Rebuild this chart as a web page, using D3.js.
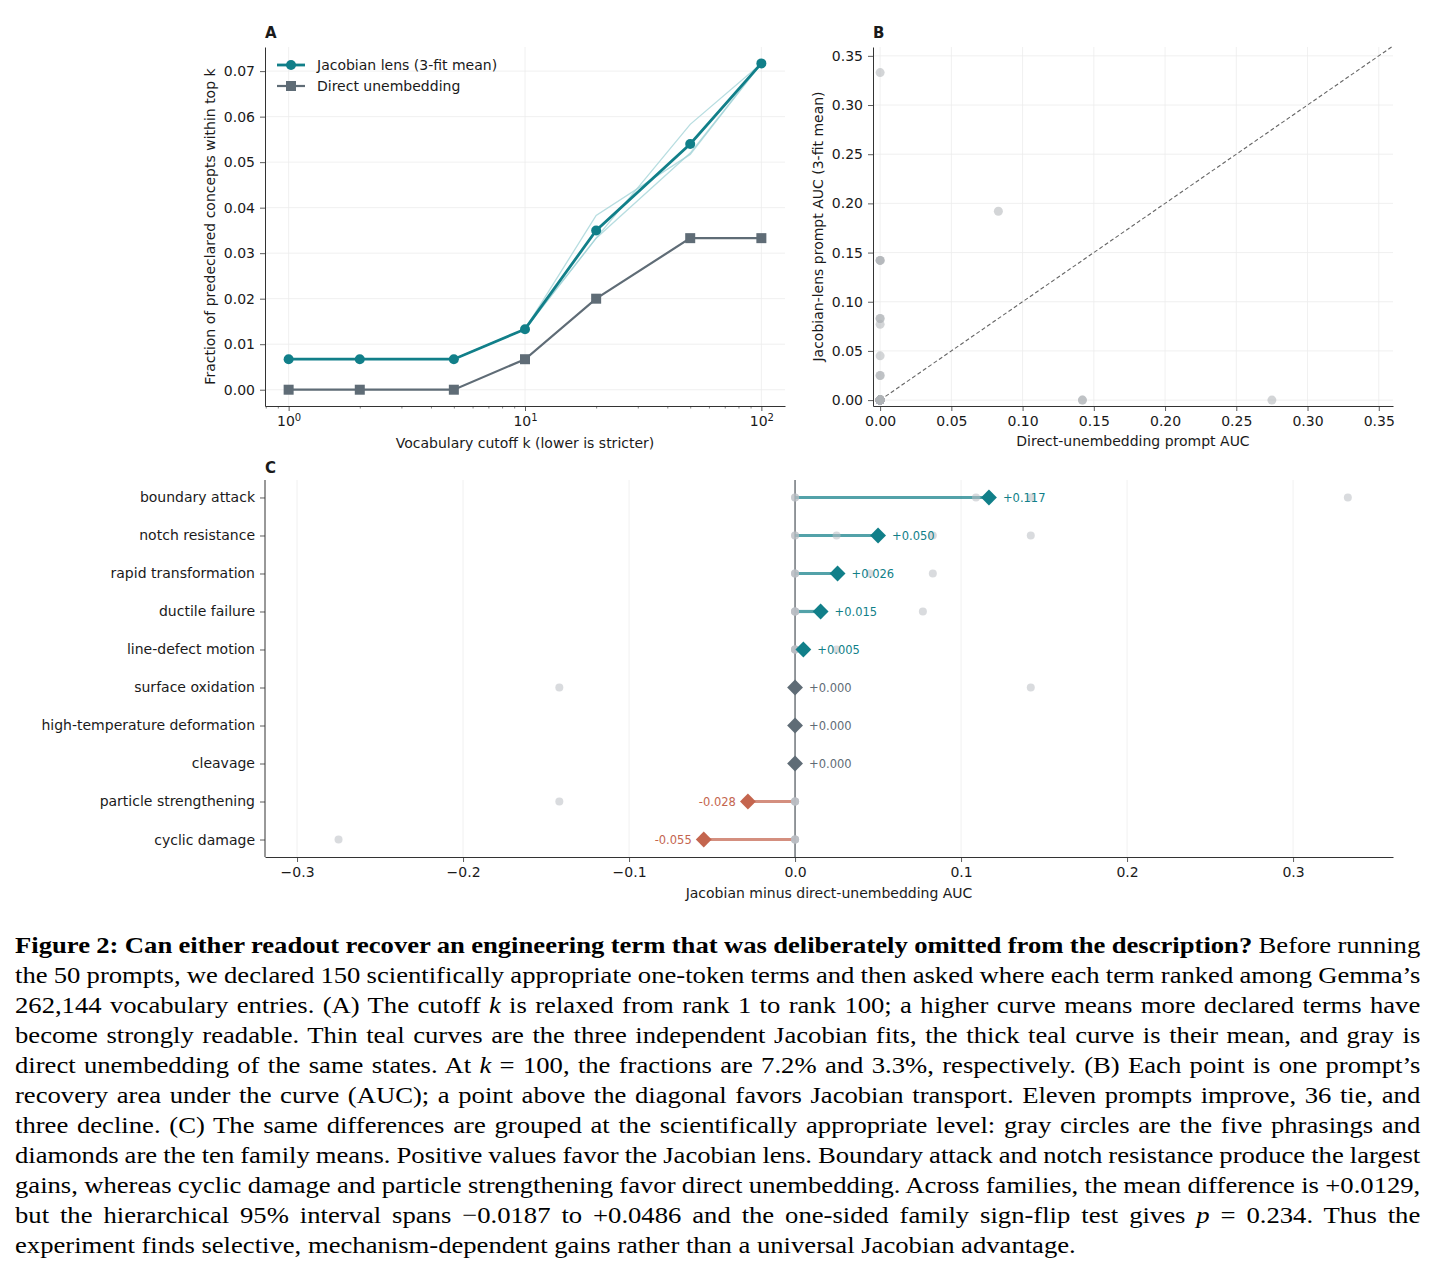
<!DOCTYPE html>
<html>
<head>
<meta charset="utf-8">
<script src="https://cdn.jsdelivr.net/npm/d3@7"></script>
<style>
body { margin: 0; background: #fff; }
svg text { font-family: "DejaVu Sans", sans-serif; fill: #1a1a1a; }
#caption { position: absolute; left: 15px; top: 930px; width: 1266px;
  transform: scale(1.11, 1); transform-origin: 0 0;
  font-family: "Liberation Serif", "Times New Roman", serif; font-size: 24px;
  line-height: 30px; color: #000; }
#caption div { white-space: nowrap; }
#caption div span { display: inline-block; }
</style>
</head>
<body>
<svg width="1438" height="915"></svg>
<div id="caption">
<div><span><b>Figure 2: Can either readout recover an engineering term that was deliberately omitted from the description?</b> Before running</span></div>
<div><span>the 50 prompts, we declared 150 scientifically appropriate one-token terms and then asked where each term ranked among Gemma’s</span></div>
<div><span>262,144 vocabulary entries. (A) The cutoff <i>k</i> is relaxed from rank 1 to rank 100; a higher curve means more declared terms have</span></div>
<div><span>become strongly readable. Thin teal curves are the three independent Jacobian fits, the thick teal curve is their mean, and gray is</span></div>
<div><span>direct unembedding of the same states. At <i>k</i> = 100, the fractions are 7.2% and 3.3%, respectively. (B) Each point is one prompt’s</span></div>
<div><span>recovery area under the curve (AUC); a point above the diagonal favors Jacobian transport. Eleven prompts improve, 36 tie, and</span></div>
<div><span>three decline. (C) The same differences are grouped at the scientifically appropriate level: gray circles are the five phrasings and</span></div>
<div><span>diamonds are the ten family means. Positive values favor the Jacobian lens. Boundary attack and notch resistance produce the largest</span></div>
<div><span>gains, whereas cyclic damage and particle strengthening favor direct unembedding. Across families, the mean difference is +0.0129,</span></div>
<div><span>but the hierarchical 95% interval spans −0.0187 to +0.0486 and the one-sided family sign-flip test gives <i>p</i> = 0.234. Thus the</span></div>
<div class="last"><span>experiment finds selective, mechanism-dependent gains rather than a universal Jacobian advantage.</span></div>
</div>
<script>
// panel A data
var kValues = [1, 2, 5, 10, 20, 50, 100];
var jacobianMean = [0.0067, 0.0067, 0.0067, 0.0133, 0.035, 0.054, 0.0717];
var jacobianFit1 = [0.0067, 0.0067, 0.0067, 0.0133, 0.0383, 0.0517, 0.0717];
var jacobianFit2 = [0.0067, 0.0067, 0.0067, 0.0133, 0.0333, 0.0583, 0.0717];
var jacobianFit3 = [0.0067, 0.0067, 0.0067, 0.0133, 0.0333, 0.052, 0.0717];
var directUnembed = [0, 0, 0, 0.0067, 0.02, 0.0333, 0.0333];
var aTicksY = [0, 0.01, 0.02, 0.03, 0.04, 0.05, 0.06, 0.07];
var aTicksX = [1, 10, 100];
var aMinorX = [0.8, 0.9, 2, 3, 4, 5, 6, 7, 8, 9, 20, 30, 40, 50, 60, 70, 80, 90];

// panels B and C data: five phrasings per family
var families = ["boundary attack", "notch resistance", "rapid transformation", "ductile failure",
  "line-defect motion", "surface oxidation", "high-temperature deformation", "cleavage",
  "particle strengthening", "cyclic damage"];
var phrasingDirect = [
  [0, 0, 0.083, 0, 0],
  [0, 0, 0, 0, 0],
  [0, 0, 0, 0, 0],
  [0, 0, 0, 0, 0],
  [0, 0, 0, 0, 0],
  [0.142, 0, 0, 0, 0],
  [0, 0, 0, 0, 0],
  [0, 0, 0, 0, 0],
  [0.142, 0, 0, 0, 0],
  [0.275, 0, 0, 0, 0]
];
var phrasingJacobian = [
  [0, 0, 0.192, 0.142, 0.333],
  [0, 0, 0.025, 0.083, 0.142],
  [0, 0, 0, 0.045, 0.083],
  [0, 0, 0, 0, 0.077],
  [0, 0, 0, 0, 0.025],
  [0, 0, 0, 0, 0.142],
  [0, 0, 0, 0, 0],
  [0, 0, 0, 0, 0],
  [0, 0, 0, 0, 0],
  [0, 0, 0, 0, 0]
];
var bTicks = [0, 0.05, 0.1, 0.15, 0.2, 0.25, 0.3, 0.35];
var cTicks = [-0.3, -0.2, -0.1, 0, 0.1, 0.2, 0.3];

var teal = "#117f89", tealLight = "#9fd2d6", slate = "#5f6c76", brick = "#c4654e";
var gridColor = "#ececec", spineColor = "#333";

// justify caption lines by word spacing
d3.selectAll("#caption div").each(function() {
  var div = this, span = div.querySelector("span");
  if (div.classList.contains("last")) return;
  var w = span.getBoundingClientRect().width / 1.11;
  var spaces = (span.textContent.match(/ /g) || []).length;
  span.style.wordSpacing = ((1266 - w) / spaces) + "px";
});

var svg = d3.select("svg");

function styleAxis(g) {
  g.select(".domain").attr("stroke", spineColor).attr("stroke-width", 1);
  g.selectAll(".tick line").attr("stroke", spineColor).attr("stroke-width", 0.8);
  g.selectAll(".tick text").attr("font-size", "14px").attr("fill", "#1a1a1a")
    .attr("font-family", "DejaVu Sans, sans-serif");
}

function panelLetter(x, y, s) {
  svg.append("text").attr("x", x).attr("y", y).attr("font-size", "15px")
    .attr("font-weight", "bold").text(s);
}

// ---------- panel A ----------
var A = {left: 265, right: 785, top: 47, bottom: 406};
var xA = d3.scaleLog().domain([Math.pow(10, -0.1), Math.pow(10, 2.1)]).range([A.left, A.right]);
var yA = d3.scaleLinear().domain([-0.00358, 0.0753]).range([A.bottom, A.top]);
var gA = svg.append("g");

gA.selectAll(".gy").data(aTicksY).enter().append("line")
  .attr("x1", A.left).attr("x2", A.right)
  .attr("y1", function(d) { return yA(d); }).attr("y2", function(d) { return yA(d); })
  .attr("stroke", gridColor).attr("stroke-width", 0.8);
gA.selectAll(".gx").data(aTicksX).enter().append("line")
  .attr("x1", function(d) { return xA(d); }).attr("x2", function(d) { return xA(d); })
  .attr("y1", A.top).attr("y2", A.bottom)
  .attr("stroke", gridColor).attr("stroke-width", 0.8);

var lineA = function(vals) {
  return d3.line().x(function(d, i) { return xA(kValues[i]); }).y(function(d) { return yA(d); })(vals);
};
[jacobianFit1, jacobianFit2, jacobianFit3].forEach(function(f) {
  gA.append("path").attr("d", lineA(f)).attr("fill", "none")
    .attr("stroke", tealLight).attr("stroke-width", 1.3).attr("opacity", 0.75);
});
gA.append("path").attr("d", lineA(directUnembed)).attr("fill", "none")
  .attr("stroke", slate).attr("stroke-width", 2.2);
gA.selectAll(".sq").data(directUnembed).enter().append("rect")
  .attr("x", function(d, i) { return xA(kValues[i]) - 5; })
  .attr("y", function(d) { return yA(d) - 5; })
  .attr("width", 10).attr("height", 10).attr("fill", slate);
gA.append("path").attr("d", lineA(jacobianMean)).attr("fill", "none")
  .attr("stroke", teal).attr("stroke-width", 2.8);
gA.selectAll(".dot").data(jacobianMean).enter().append("circle")
  .attr("cx", function(d, i) { return xA(kValues[i]); })
  .attr("cy", function(d) { return yA(d); })
  .attr("r", 5).attr("fill", teal);

var axAY = gA.append("g").attr("transform", "translate(" + A.left + ",0)")
  .call(d3.axisLeft(yA).tickValues(aTicksY).tickFormat(d3.format(".2f")).tickSize(5).tickPadding(5).tickSizeOuter(0));
styleAxis(axAY);
var axAX = gA.append("g").attr("transform", "translate(0," + A.bottom + ")")
  .call(d3.axisBottom(xA).tickValues(aTicksX).tickSize(5).tickPadding(5).tickSizeOuter(0));
styleAxis(axAX);
axAX.selectAll(".tick text").each(function(d) {
  var t = d3.select(this);
  t.text("10");
  t.append("tspan").attr("dy", "-0.45em").attr("font-size", "10px").text(Math.round(Math.log10(d)));
});
var axAMinor = gA.append("g").attr("transform", "translate(0," + A.bottom + ")")
  .call(d3.axisBottom(xA).tickValues(aMinorX).tickSize(2.5).tickFormat(""));
axAMinor.select(".domain").remove();
axAMinor.selectAll(".tick line").attr("stroke", spineColor).attr("stroke-width", 0.6);

gA.append("text").attr("x", (A.left + A.right) / 2).attr("y", 448).attr("text-anchor", "middle")
  .attr("font-size", "14px").text("Vocabulary cutoff k (lower is stricter)");
gA.append("text").attr("transform", "translate(215," + (A.top + A.bottom) / 2 + ") rotate(-90)")
  .attr("text-anchor", "middle").attr("font-size", "14px")
  .text("Fraction of predeclared concepts within top k");

var legend = gA.append("g").attr("transform", "translate(277,65)");
[["Jacobian lens (3-fit mean)", teal, "circle"], ["Direct unembedding", slate, "square"]].forEach(function(e, i) {
  var lg = legend.append("g").attr("transform", "translate(0," + i * 21 + ")");
  lg.append("line").attr("x1", 0).attr("x2", 28).attr("stroke", e[1]).attr("stroke-width", i ? 2.2 : 2.8);
  if (e[2] === "circle") lg.append("circle").attr("cx", 14).attr("r", 5).attr("fill", e[1]);
  else lg.append("rect").attr("x", 9).attr("y", -5).attr("width", 10).attr("height", 10).attr("fill", e[1]);
  lg.append("text").attr("x", 40).attr("dy", "0.35em").attr("font-size", "14px").text(e[0]);
});
panelLetter(265, 38, "A");

// ---------- panel B ----------
var B = {left: 873, right: 1393, top: 47, bottom: 406};
var xB = d3.scaleLinear().domain([-0.005, 0.36]).range([B.left, B.right]);
var yB = d3.scaleLinear().domain([-0.006, 0.359]).range([B.bottom, B.top]);
var gB = svg.append("g");
bTicks.forEach(function(t) {
  gB.append("line").attr("x1", B.left).attr("x2", B.right).attr("y1", yB(t)).attr("y2", yB(t))
    .attr("stroke", gridColor).attr("stroke-width", 0.8);
  gB.append("line").attr("x1", xB(t)).attr("x2", xB(t)).attr("y1", B.top).attr("y2", B.bottom)
    .attr("stroke", gridColor).attr("stroke-width", 0.8);
});
var promptPoints = [];
families.forEach(function(f, i) {
  phrasingDirect[i].forEach(function(d, j) {
    promptPoints.push({x: d, y: phrasingJacobian[i][j]});
  });
});
gB.append("line").attr("x1", xB(0)).attr("y1", yB(0)).attr("x2", xB(0.36)).attr("y2", yB(0.36))
  .attr("stroke", "#666").attr("stroke-width", 1.1).attr("stroke-dasharray", "4,2.5");
gB.selectAll(".pt").data(promptPoints).enter().append("circle")
  .attr("cx", function(d) { return xB(d.x); }).attr("cy", function(d) { return yB(d.y); })
  .attr("r", 4.5).attr("fill", "#aeb2b6").attr("opacity", 0.55);
var axBY = gB.append("g").attr("transform", "translate(" + B.left + ",0)")
  .call(d3.axisLeft(yB).tickValues(bTicks).tickFormat(d3.format(".2f")).tickSize(5).tickPadding(5).tickSizeOuter(0));
styleAxis(axBY);
var axBX = gB.append("g").attr("transform", "translate(0," + B.bottom + ")")
  .call(d3.axisBottom(xB).tickValues(bTicks).tickFormat(d3.format(".2f")).tickSize(5).tickPadding(5).tickSizeOuter(0));
styleAxis(axBX);
gB.append("text").attr("x", (B.left + B.right) / 2).attr("y", 446).attr("text-anchor", "middle")
  .attr("font-size", "14px").text("Direct-unembedding prompt AUC");
gB.append("text").attr("transform", "translate(823," + (B.top + B.bottom) / 2 + ") rotate(-90)")
  .attr("text-anchor", "middle").attr("font-size", "14px").text("Jacobian-lens prompt AUC (3-fit mean)");
panelLetter(873, 38, "B");

// ---------- panel C ----------
var C = {left: 265, right: 1393, top: 480, bottom: 857};
var xC = d3.scaleLinear().domain([-0.3193, 0.3602]).range([C.left, C.right]);
var yC = d3.scalePoint().domain(families).range([C.top, C.bottom]).padding(0.46);
var gC = svg.append("g");
cTicks.forEach(function(t) {
  gC.append("line").attr("x1", xC(t)).attr("x2", xC(t)).attr("y1", C.top).attr("y2", C.bottom)
    .attr("stroke", gridColor).attr("stroke-width", 0.8);
});
gC.append("line").attr("x1", xC(0)).attr("x2", xC(0)).attr("y1", C.top).attr("y2", C.bottom)
  .attr("stroke", "#7a7f84").attr("stroke-width", 1.6);

var famData = families.map(function(f, i) {
  var diffs = phrasingJacobian[i].map(function(v, j) { return v - phrasingDirect[i][j]; });
  return {name: f, diffs: diffs, mean: d3.mean(diffs)};
});
function famColor(m) { return m > 0.0005 ? teal : (m < -0.0005 ? brick : slate); }

gC.selectAll(".stem").data(famData.filter(function(d) { return Math.abs(d.mean) > 0.0005; }))
  .enter().append("line")
  .attr("x1", xC(0)).attr("x2", function(d) { return xC(d.mean); })
  .attr("y1", function(d) { return yC(d.name); }).attr("y2", function(d) { return yC(d.name); })
  .attr("stroke", function(d) { return famColor(d.mean); }).attr("stroke-width", 3.2).attr("opacity", 0.72);

var phr = [];
famData.forEach(function(d) { d.diffs.forEach(function(v) { phr.push({name: d.name, v: v}); }); });
gC.selectAll(".ph").data(phr).enter().append("circle")
  .attr("cx", function(d) { return xC(d.v); }).attr("cy", function(d) { return yC(d.name); })
  .attr("r", 4).attr("fill", "#b9bec3").attr("opacity", 0.55);

gC.selectAll(".dm").data(famData).enter().append("rect")
  .attr("x", -5.6).attr("y", -5.6).attr("width", 11.2).attr("height", 11.2)
  .attr("transform", function(d) { return "translate(" + xC(d.mean) + "," + yC(d.name) + ") rotate(45)"; })
  .attr("fill", function(d) { return famColor(d.mean); });

gC.selectAll(".lb").data(famData).enter().append("text")
  .attr("x", function(d) { return xC(d.mean) + (d.mean < -0.0005 ? -12 : 14); })
  .attr("y", function(d) { return yC(d.name); })
  .attr("dy", "0.35em").attr("font-size", "11.5px")
  .attr("text-anchor", function(d) { return d.mean < -0.0005 ? "end" : "start"; })
  .style("fill", function(d) { return famColor(d.mean); })
  .text(function(d) { var s = d3.format(".3f")(Math.abs(d.mean)); return (d.mean < -0.0005 ? "-" : "+") + s; });

var axCY = gC.append("g").attr("transform", "translate(" + C.left + ",0)")
  .call(d3.axisLeft(yC).tickSize(5).tickPadding(5).tickSizeOuter(0));
styleAxis(axCY);
axCY.select(".domain").attr("d", "M0," + C.top + "V" + C.bottom);
var axCX = gC.append("g").attr("transform", "translate(0," + C.bottom + ")")
  .call(d3.axisBottom(xC).tickValues(cTicks).tickFormat(function(d) { return d3.format(".1f")(d).replace("-", "\u2212"); })
    .tickSize(5).tickPadding(5).tickSizeOuter(0));
styleAxis(axCX);
gC.append("text").attr("x", 829).attr("y", 898).attr("text-anchor", "middle")
  .attr("font-size", "14px").text("Jacobian minus direct-unembedding AUC");
panelLetter(265, 473, "C");
</script>
</body>
</html>
